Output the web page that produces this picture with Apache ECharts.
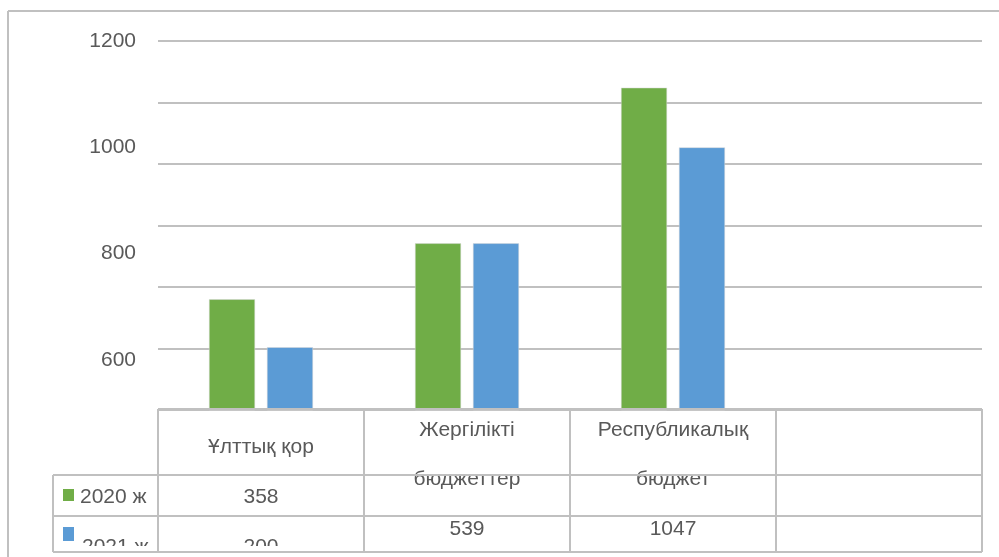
<!DOCTYPE html>
<html>
	<head>
		<meta charset="utf-8" />
		<title>Chart</title>
		<style>
			html, body {
				width: 100%;
				height: 100%;
				margin: 0;
				padding: 0;
				background: #fff;
			}
			#main {
				width: 999px;
				height: 557px;
			}
		</style>
	</head>
	<body>
		<div id="main"></div>
		<script src="https://cdn.jsdelivr.net/npm/echarts@6/dist/echarts.min.js"></script>
		<script>
			var categories = ['Ұлттық қор', 'Жергілікті бюджеттер', 'Республикалық бюджет', ''];
			var seriesNames = ['2020 ж', '2021 ж'];
			var bars2020 = [780, 871, 1124, null];
			var bars2021 = [702, 871, 1027, null];
			var table2020 = ['358', '', '', ''];
			var table2021 = ['200', '539', '1047', ''];
			var yTicks = [600, 800, 1000, 1200];
			var colors = ['#70AD47', '#5B9BD5'];

			var font = "'Liberation Sans', Arial, sans-serif";
			var fontSize = 21;
			var textColor = '#595959';
			var lineColor = '#c0c0c0';

			var chart = echarts.init(document.getElementById('main'), null, { renderer: 'canvas' });
			chart.setOption({
				animation: false,
				grid: { left: 158, right: 17, top: 41, bottom: 147 },
				xAxis: {
					type: 'category',
					data: categories,
					axisLine: { show: false },
					axisTick: { show: false },
					axisLabel: { show: false }
				},
				yAxis: [{
					type: 'value',
					min: 600,
					max: 1200,
					interval: 100,
					axisLabel: { show: false },
					axisLine: { show: false },
					axisTick: { show: false },
					splitLine: { lineStyle: { color: lineColor, width: 2 } }
				}, {
					// labels sit off the gridlines in the original, so they get their own scale
					type: 'value',
					position: 'left',
					min: 506,
					max: 1200,
					axisLine: { show: false },
					axisTick: { show: false },
					splitLine: { show: false },
					axisLabel: {
						customValues: yTicks,
						formatter: function (v) { return String(v); },
						color: textColor,
						fontSize: fontSize,
						fontFamily: font,
						margin: 22
					}
				}],
				series: [{
					name: seriesNames[0],
					type: 'bar',
					data: bars2020,
					barWidth: 46,
					barGap: '26%',
					itemStyle: { color: colors[0], borderColor: '#d8d8d8', borderWidth: 0.5 }
				}, {
					name: seriesNames[1],
					type: 'bar',
					data: bars2021,
					barWidth: 46,
					itemStyle: { color: colors[1], borderColor: '#d8d8d8', borderWidth: 0.5 }
				}]
			});

			// data table under the plot, laid out from the category axis
			var centers = categories.map(function (c, i) {
				return chart.convertToPixel({ xAxisIndex: 0 }, i);
			});
			var band = centers[1] - centers[0];
			var colX = [centers[0] - band / 2];
			centers.forEach(function (c) { colX.push(c + band / 2); });
			var tableTop = chart.convertToPixel({ yAxisIndex: 0 }, 600) - 1;
			var row1 = 475, row2 = 516, tableBottom = 552;
			var headLeft = 53;

			var g = [];
			function line(x1, y1, x2, y2) {
				g.push({ type: 'line', z: 30, shape: { x1: x1, y1: y1, x2: x2, y2: y2 }, style: { stroke: lineColor, lineWidth: 2 } });
			}
			function text(str, x, y, align, z) {
				g.push({
					type: 'text', z: z || 20, x: x, y: y,
					style: { text: str, fill: textColor, font: fontSize + 'px ' + font, align: align || 'center', verticalAlign: 'middle', lineHeight: 49 }
				});
			}

			// frame
			line(8, 11, 999, 11);
			line(8, 11, 8, 557);

			// table grid
			line(colX[0], tableTop, colX[4], tableTop);
			line(headLeft, row1, colX[4], row1);
			line(headLeft, row2, colX[4], row2);
			line(headLeft, tableBottom, colX[4], tableBottom);
			line(headLeft, row1, headLeft, tableBottom);
			colX.forEach(function (x) { line(x, tableTop, x, tableBottom); });

			// header
			categories.forEach(function (name, i) {
				if (!name) return;
				var wrapped = name.length > 12 ? name.replace(' ', '\n') : name;
				text(wrapped, centers[i], wrapped.indexOf('\n') >= 0 ? 455 : 447);
			});

			// series rows
			g.push({ type: 'rect', z: 20, shape: { x: 63, y: 489, width: 11, height: 12 }, style: { fill: colors[0] } });
			g.push({ type: 'rect', z: 20, shape: { x: 63, y: 527, width: 11, height: 14 }, style: { fill: colors[1] } });
			text(seriesNames[0], 80, 497, 'left');
			text(seriesNames[1], 82, 547, 'left');
			table2020.forEach(function (v, i) { if (v) text(v, centers[i], 497); });
			table2021.forEach(function (v, i) {
				if (v) text(v, centers[i], i === 0 ? 547 : 529);
			});
			// the last row is cut short in the original
			g.push({ type: 'rect', z: 25, shape: { x: 20, y: 546, width: 970, height: 6 }, style: { fill: '#fff' } });

			chart.setOption({ graphic: g });
		</script>
	</body>
</html>
